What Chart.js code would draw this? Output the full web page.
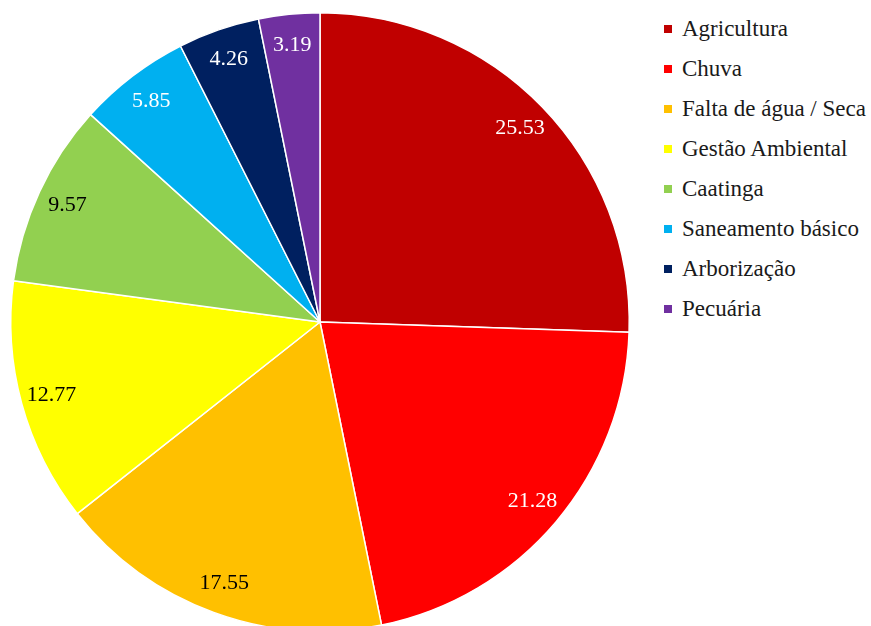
<!DOCTYPE html>
<html>
<head>
<meta charset="utf-8">
<script src="https://cdn.jsdelivr.net/npm/chart.js@4"></script>
<style>
  html, body { margin: 0; padding: 0; background: #fff; overflow: hidden; }
  #wrap { position: relative; width: 871px; height: 626px; overflow: hidden; }
  #pieChart { position: absolute; left: 0; top: 0; }
  #legend { position: absolute; left: 664px; top: 16px; font-family: "Liberation Serif", "Times New Roman", serif; font-size: 23px; color: #1a1a1a; }
  .item { height: 40px; line-height: 26px; white-space: nowrap; }
  .box { display: inline-block; width: 8px; height: 8px; margin-right: 10px; vertical-align: 3px; }
</style>
</head>
<body>
<div id="wrap">
  <canvas id="pieChart" width="640" height="644"></canvas>
  <div id="legend"></div>
</div>
<script>
'use strict';

// Data
var categories = ['Agricultura', 'Chuva', 'Falta de água / Seca', 'Gestão Ambiental', 'Caatinga', 'Saneamento básico', 'Arborização', 'Pecuária'];
var values = [25.53, 21.28, 17.55, 12.77, 9.57, 5.85, 4.26, 3.19];
var colors = ['#C00000', '#FF0000', '#FFC000', '#FFFF00', '#92D050', '#00B0F0', '#002060', '#7030A0'];
var labelColors = ['#fff', '#fff', '#000', '#000', '#000', '#fff', '#fff', '#fff'];

// Legend
var legend = document.getElementById('legend');
for (var i = 0; i < categories.length; i++) {
  var row = document.createElement('div');
  row.className = 'item';
  row.innerHTML = '<span class="box" style="background:' + colors[i] + '"></span>' + categories[i];
  legend.appendChild(row);
}

// Value labels inside the slices
var valueLabels = {
  id: 'valueLabels',
  afterDatasetsDraw: function (chart) {
    var ctx = chart.ctx;
    var meta = chart.getDatasetMeta(0);
    ctx.save();
    ctx.font = '22px "Liberation Serif", "Times New Roman", serif';
    ctx.textAlign = 'center';
    ctx.textBaseline = 'middle';
    meta.data.forEach(function (arc, idx) {
      var mid = (arc.startAngle + arc.endAngle) / 2;
      var r = arc.outerRadius * 0.9;
      var x = arc.x + Math.cos(mid) * r;
      var y = arc.y + Math.sin(mid) * r;
      ctx.fillStyle = labelColors[idx];
      ctx.fillText(values[idx].toFixed(2), x, y);
    });
    ctx.restore();
  }
};

var ctx = document.getElementById('pieChart').getContext('2d');
var pieChart = new Chart(ctx, {
  type: 'pie',
  data: {
    labels: categories,
    datasets: [{
      data: values,
      backgroundColor: colors,
      borderColor: '#fff',
      borderWidth: 1.5
    }]
  },
  options: {
    responsive: false,
    animation: false,
    layout: { padding: 10 },
    plugins: {
      legend: { display: false },
      tooltip: { enabled: false }
    }
  },
  plugins: [valueLabels]
});
</script>
</body>
</html>
